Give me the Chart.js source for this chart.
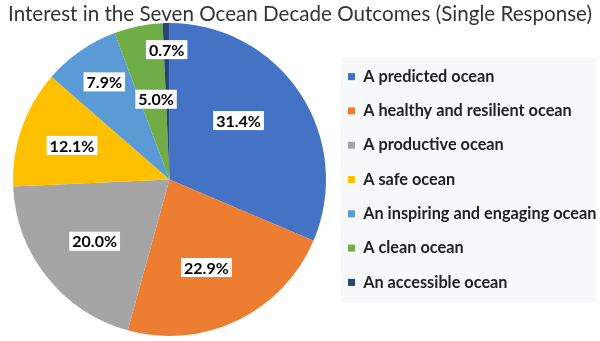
<!DOCTYPE html>
<html>
<head>
<meta charset="utf-8">
<script src="https://cdn.jsdelivr.net/npm/chart.js@4"></script>
<style>
  html,body{margin:0;padding:0;background:#fff;}
  #wrap{width:600px;height:341px;position:relative;}
</style>
</head>
<body>
<div id="wrap"><canvas id="pie"></canvas></div>
<script>
const TITLE = "Interest in the Seven Ocean Decade Outcomes (Single Response)";
const outcomes = [
  "A predicted ocean",
  "A healthy and resilient ocean",
  "A productive ocean",
  "A safe ocean",
  "An inspiring and engaging ocean",
  "A clean ocean",
  "An accessible ocean"
];
const shares = [31.4, 22.9, 20.0, 12.1, 7.9, 5.0, 0.7];
const colors = ["#4472C4","#ED7D31","#A5A5A5","#FFC000","#5B9BD5","#70AD47","#264478"];
// label placement: [fraction of radius, angle nudge in degrees]
const labelPlace = [[0.58,-7],[0.61,3],[0.62,-1],[0.66,0],[0.75,1],[0.52,2],[0.83,0]];

const FONT = "Lato, 'Open Sans', sans-serif";

const titlePlugin = {
  id:"titleText",
  afterDraw(chart){
    const c = chart.ctx;
    c.save();
    c.font = "20.6px " + FONT;
    c.fillStyle = "#333";
    c.textAlign = "center";
    c.textBaseline = "middle";
    c.fillText(TITLE, 300, 14);
    c.restore();
  }
};

const legendBg = {
  id:"legendBg",
  beforeDraw(chart){
    const boxes = chart.legend.legendHitBoxes;
    if(!boxes || !boxes.length) return;
    const c = chart.ctx;
    const l = 341, t = boxes[0].top - 11;
    const last = boxes[boxes.length-1];
    c.save();
    c.fillStyle = "#f7f8fa";
    c.fillRect(l, t, 596 - l, last.top + last.height + 12 - t);
    c.restore();
  }
};

const boxLabels = {
  id:"boxLabels",
  afterDatasetsDraw(chart){
    const c = chart.ctx;
    const meta = chart.getDatasetMeta(0);
    c.save();
    c.font = "bold 16px " + FONT;
    c.textAlign = "center";
    c.textBaseline = "middle";
    meta.data.forEach((arc,i)=>{
      const [f,nudge] = labelPlace[i];
      const a = (arc.startAngle + arc.endAngle)/2 + nudge*Math.PI/180;
      const x = arc.x + Math.cos(a)*arc.outerRadius*f;
      const y = arc.y + Math.sin(a)*arc.outerRadius*f;
      const txt = shares[i].toFixed(1) + "%";
      const w = c.measureText(txt).width + 6;
      c.fillStyle = "#fff";
      c.fillRect(x - w/2, y - 9.5, w, 19);
      c.fillStyle = "#000";
      c.fillText(txt, x, y + 1);
    });
    c.restore();
  }
};

// fixed legend column so the pie sits where it does in the original
const widenLegend = {
  id:"widenLegend",
  beforeInit(chart){
    const fit = chart.legend.fit;
    chart.legend.fit = function(){ fit.call(this); this.width = 270; };
  }
};

new Chart(pie,{
  type:"pie",
  data:{
    labels:outcomes,
    datasets:[{ data:shares, backgroundColor:colors, borderWidth:0 }]
  },
  plugins:[legendBg, boxLabels, titlePlugin, widenLegend],
  options:{
    responsive:true,
    maintainAspectRatio:false,
    animation:false,
    layout:{ padding:{ top:23, bottom:5, left:9, right:0 } },
    plugins:{
      tooltip:{ enabled:false },
      legend:{
        position:"right",
        labels:{
          boxWidth:7, boxHeight:7, padding:18,
          color:"#222",
          font:{ family:FONT, size:16.3, weight:"bold" }
        }
      }
    }
  }
});
</script>
</body>
</html>
